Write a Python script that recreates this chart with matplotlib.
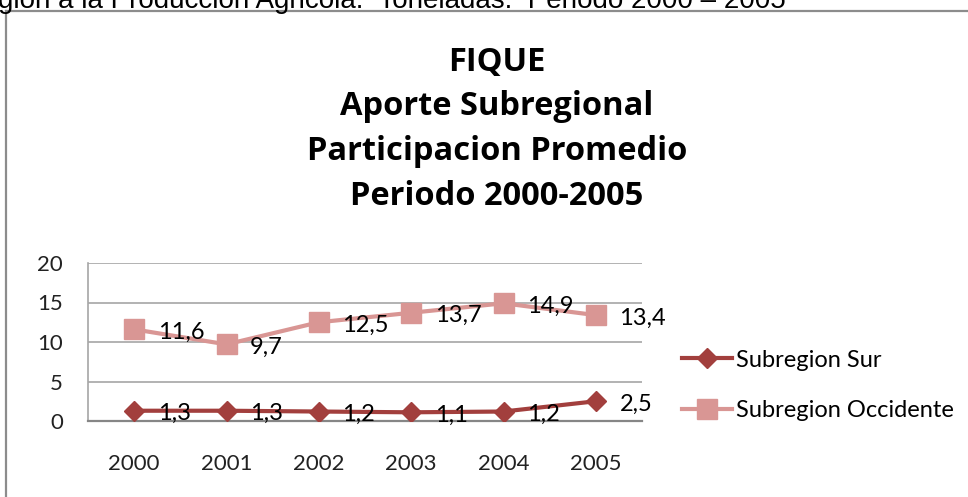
import matplotlib
matplotlib.use('Agg')
from matplotlib import pyplot as plt
from matplotlib.lines import Line2D

# Datos del grafico
years = ['2000', '2001', '2002', '2003', '2004', '2005']
sur = [1.3, 1.3, 1.2, 1.1, 1.2, 2.5]
occidente = [11.6, 9.7, 12.5, 13.7, 14.9, 13.4]
sur_labels = ['1,3', '1,3', '1,2', '1,1', '1,2', '2,5']
occ_labels = ['11,6', '9,7', '12,5', '13,7', '14,9', '13,4']
title_lines = ['FIQUE', 'Aporte Subregional', 'Participacion Promedio',
               'Periodo 2000-2005']
header = 'gion a la Produccion Agricola.  Toneladas.  Periodo 2000 \u2013 2005'

col_sur = '#A23F3D'
col_occ = '#D99694'
font = 'Lato'

fig = plt.figure(figsize=(9.68, 4.97), dpi=100)
W, H = 968, 497

# Texto cortado arriba del grafico
fig.text(-2 / W, 1 - 8 / H, header, fontsize=20, family='Liberation Sans',
         ha='left', va='baseline', color='black')

# Marco del grafico
fig.add_artist(Line2D([6 / W, 6 / W], [0, 1 - 11 / H], transform=fig.transFigure,
                      color='#8C8C8C', lw=1.6))
fig.add_artist(Line2D([6 / W, 1], [1 - 11 / H, 1 - 11 / H], transform=fig.transFigure,
                      color='#8C8C8C', lw=1.6))

# Titulo
baselines = [71, 115, 160, 205]
for line, yb in zip(title_lines, baselines):
    fig.text(497 / W, 1 - yb / H, line, fontsize=23.5, fontweight='bold',
             family='Open Sans', ha='center', va='baseline')

ax = fig.add_axes([88 / W, 1 - 421 / H, 554 / W, 158 / H])
x = range(len(years))
ax.plot(x, sur, color=col_sur, lw=3, marker='D', markersize=10,
        label='Subregion Sur', zorder=3)
ax.plot(x, occidente, color=col_occ, lw=3, marker='s', markersize=14,
        label='Subregion Occidente', zorder=3)

for i in x:
    ax.annotate(sur_labels[i], (i, sur[i]), xytext=(17, -2), textcoords='offset points',
                ha='left', va='center', fontsize=17, family=font)
    ax.annotate(occ_labels[i], (i, occidente[i]), xytext=(17, -2), textcoords='offset points',
                ha='left', va='center', fontsize=17, family=font)

ax.set_xlim(-0.5, 5.5)
ax.set_ylim(0, 20)
ax.set_yticks([0, 5, 10, 15, 20])
ax.set_xticks(list(x))
ax.set_xticklabels(years)
ax.tick_params(axis='both', length=0, labelsize=16)
ax.tick_params(axis='y', pad=18)
ax.tick_params(axis='x', pad=24)
for lab in ax.get_xticklabels() + ax.get_yticklabels():
    lab.set_family(font)
    lab.set_color('#222222')

ax.grid(axis='y', color='#A6A6A6', lw=1.2)
ax.set_axisbelow(True)
for s in ['top', 'right']:
    ax.spines[s].set_visible(False)
ax.spines['left'].set_color('#A6A6A6')
ax.spines['left'].set_linewidth(1.2)
ax.spines['bottom'].set_color('#868686')
ax.spines['bottom'].set_linewidth(1.6)

leg = ax.legend(loc='center left', bbox_to_anchor=(682 / W, 1 - 385.5 / H),
                bbox_transform=fig.transFigure, frameon=False,
                prop={'family': font, 'size': 17}, handlelength=2.1,
                handletextpad=0.2, labelspacing=1.25, borderpad=0, borderaxespad=0)

fig.savefig('out.png', dpi=100, facecolor='white')
